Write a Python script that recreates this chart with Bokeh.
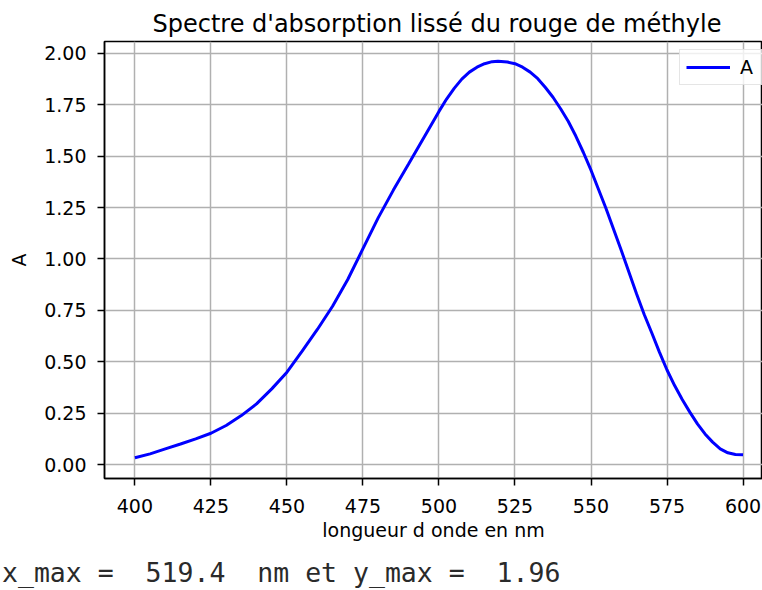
from bokeh.plotting import figure
from bokeh.layouts import column
from bokeh.models import (Range1d, Div, FixedTicker, NumeralTickFormatter,
                          GlobalInlineStyleSheet)
from bokeh.embed import file_html
from bokeh.resources import INLINE

# ---- data ----
wavelength = [400, 405, 410, 415, 420, 425, 430, 435, 440, 445, 450, 455, 460,
              465, 470, 475, 480, 485, 490, 495, 500, 502.5, 505, 507.5, 510,
              512.5, 515, 517.5, 519.4, 522.5, 525, 527.5, 530, 532.5, 535,
              537.5, 540, 542.5, 545, 547.5, 550, 555, 560, 565, 567.5, 570,
              572.5, 575, 577.5, 580, 582.5, 585, 587.5, 590, 592.5, 595,
              597.5, 600]
absorbance = [0.033, 0.052, 0.076, 0.100, 0.125, 0.152, 0.190, 0.238, 0.295,
              0.368, 0.449, 0.552, 0.657, 0.770, 0.900, 1.050, 1.200, 1.335,
              1.462, 1.590, 1.718, 1.778, 1.830, 1.875, 1.909, 1.933, 1.950,
              1.960, 1.962, 1.958, 1.950, 1.933, 1.909, 1.877, 1.834, 1.787,
              1.731, 1.670, 1.598, 1.518, 1.432, 1.243, 1.040, 0.830, 0.730,
              0.640, 0.547, 0.460, 0.384, 0.316, 0.255, 0.198, 0.149, 0.109,
              0.076, 0.057, 0.049, 0.047]
x_ticks = [400, 425, 450, 475, 500, 525, 550, 575, 600]
y_ticks = [0.0, 0.25, 0.5, 0.75, 1.0, 1.25, 1.5, 1.75, 2.0]
x_max = 519.4
y_max = 1.96

title_text = "Spectre d'absorption lissé du rouge de méthyle"
x_label = "longueur d onde en nm"
y_label = "A"
result_text = f"x_max =  {x_max}  nm et y_max =  {y_max}"

FONT = "DejaVu Sans"

p = figure(width=762, height=555, output_backend="svg", toolbar_location=None,
           x_range=Range1d(390, 606.4), y_range=Range1d(-0.068, 2.058),
           min_border_left=104, min_border_right=0, min_border_top=41,
           min_border_bottom=77, background_fill_color="white",
           border_fill_color="white")

p.title.text = title_text
p.title.text_font = FONT
p.title.text_font_size = "24px"
p.title.text_font_style = "normal"
p.title.text_color = "black"
p.title.align = "left"
p.title.offset = 48
p.title.standoff = 8

p.outline_line_color = "black"
p.outline_line_width = 1.5

for ax in (p.xaxis[0], p.yaxis[0]):
    ax.axis_line_color = "black"
    ax.axis_line_width = 1.5
    ax.major_tick_line_color = "black"
    ax.major_tick_line_width = 1.5
    ax.major_tick_out = 7
    ax.major_tick_in = 0
    ax.minor_tick_line_color = None
    ax.major_label_text_font = FONT
    ax.major_label_text_font_size = "19px"
    ax.major_label_text_color = "black"
    ax.axis_label_text_font = FONT
    ax.axis_label_text_font_size = "19px"
    ax.axis_label_text_font_style = "normal"
    ax.axis_label_text_color = "black"

p.xaxis.ticker = FixedTicker(ticks=x_ticks)
p.yaxis.ticker = FixedTicker(ticks=y_ticks)
p.yaxis.formatter = NumeralTickFormatter(format="0.00")
p.xaxis.axis_label = x_label
p.yaxis.axis_label = y_label
p.xaxis.major_label_standoff = 13
p.yaxis.major_label_standoff = 11
p.xaxis.axis_label_standoff = 3
p.yaxis.axis_label_standoff = 11

p.grid.grid_line_color = "#b0b0b0"
p.grid.grid_line_width = 1.5

p.line(wavelength, absorbance, line_color="#0000ff", line_width=3,
       legend_label="A")

lg = p.legend[0]
lg.location = (575, 393)
lg.margin = 0
lg.padding = 6
lg.spacing = 0
lg.glyph_width = 44
lg.glyph_height = 18
lg.label_height = 18
lg.label_standoff = 10
lg.label_text_font = FONT
lg.label_text_font_size = "19px"
lg.label_text_color = "black"
lg.border_line_color = "#cccccc"
lg.border_line_width = 1.5
lg.background_fill_alpha = 0.8

out_div = Div(text=result_text, width=762, height=35,
              styles={"font-family": "'DejaVu Sans Mono', monospace",
                      "font-size": "26.5px", "line-height": "35px",
                      "white-space": "pre", "color": "#2a2a2a",
                      "margin": "0", "padding": "0 0 0 2px",
                      "overflow": "hidden"})

layout = column(p, out_div, spacing=0)
layout.stylesheets = [GlobalInlineStyleSheet(css="html, body { margin: 0 !important; padding: 0; overflow: hidden; }")]

open("out.html", "w").write(file_html(layout, INLINE))
